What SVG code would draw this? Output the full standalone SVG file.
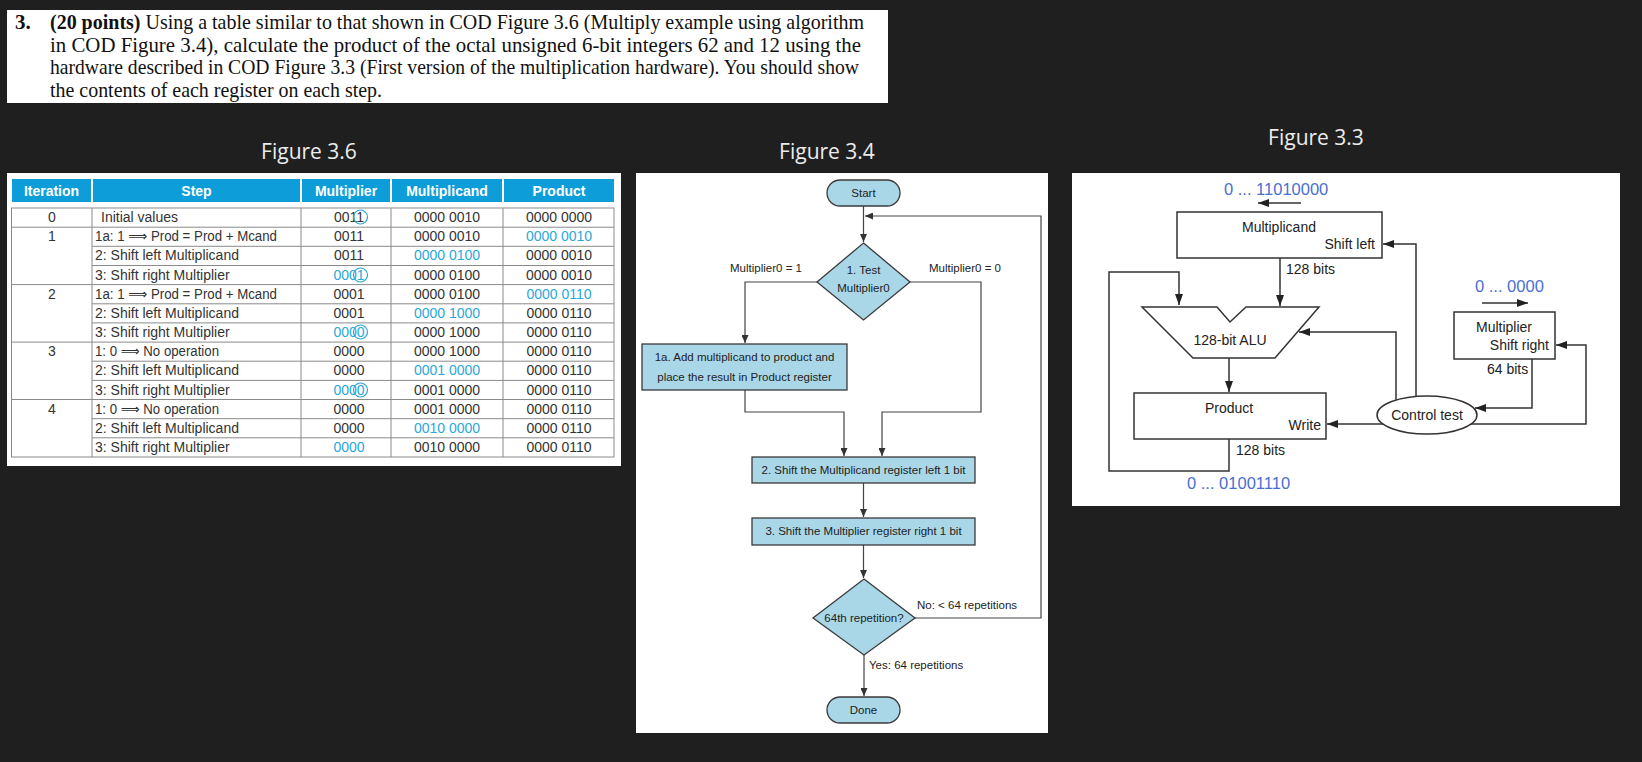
<svg xmlns="http://www.w3.org/2000/svg" width="1642" height="762" viewBox="0 0 1642 762">
<defs>
<style>
.q{font-family:"Liberation Serif","Times New Roman",serif;font-size:21px;fill:#111}
.ttl{font-family:"Open Sans","Noto Sans",sans-serif;font-size:21px;fill:#ececec;text-anchor:middle}
.th{font-family:"Liberation Sans",Arial,sans-serif;font-size:14px;font-weight:bold;fill:#fff;text-anchor:middle}
.td{font-family:"Liberation Sans","DejaVu Sans",Arial,sans-serif;font-size:14px;fill:#333}
.c{text-anchor:middle}
.bl{fill:#2aa7dc}
.hd{fill:#0d9ed9}
.grid{stroke:#8a8a8a;stroke-width:1;fill:none}
.ft{font-family:"Liberation Sans",Arial,sans-serif;font-size:11.5px;fill:#222}
.fb{fill:#a9d7e8;stroke:#3a3a3a;stroke-width:1.3}
.fc{fill:none;stroke:#444;stroke-width:1.2}
.ht{font-family:"Liberation Sans",Arial,sans-serif;font-size:14px;fill:#222}
.hn{font-family:"Liberation Sans",Arial,sans-serif;font-size:16.5px;fill:#4a6fd0}
.hb{fill:#fff;stroke:#333;stroke-width:1.5}
.hc{fill:none;stroke:#333;stroke-width:1.5}
.circ{fill:none;stroke:#2aa7dc;stroke-width:1.2}
</style>
<marker id="a4" markerUnits="userSpaceOnUse" markerWidth="8" markerHeight="7" refX="8" refY="3.5" orient="auto"><path d="M0,0 L8,3.5 L0,7 z" fill="#333"/></marker>
<marker id="a3" markerUnits="userSpaceOnUse" markerWidth="11" markerHeight="8" refX="11" refY="4" orient="auto"><path d="M0,0 L11,4 L0,8 z" fill="#222"/></marker>
</defs>
<rect width="1642" height="762" fill="#1f1f1f"/>

<g id="question">
<rect x="7" y="10" width="881" height="93" fill="#fff"/>
<text class="q" x="15" y="29" font-weight="bold">3.</text>
<text class="q" x="50" y="29" textLength="814" lengthAdjust="spacingAndGlyphs"><tspan font-weight="bold">(20 points)</tspan> Using a table similar to that shown in COD Figure 3.6 (Multiply example using algorithm</text>
<text class="q" x="50" y="51.5" textLength="811" lengthAdjust="spacingAndGlyphs">in COD Figure 3.4), calculate the product of the octal unsigned 6-bit integers 62 and 12 using the</text>
<text class="q" x="50" y="74" textLength="809" lengthAdjust="spacingAndGlyphs">hardware described in COD Figure 3.3 (First version of the multiplication hardware). You should show</text>
<text class="q" x="50" y="96.5" textLength="332" lengthAdjust="spacingAndGlyphs">the contents of each register on each step.</text>
</g>

<text class="ttl" x="309" y="159">Figure 3.6</text>
<text class="ttl" x="827" y="159">Figure 3.4</text>
<text class="ttl" x="1316" y="145">Figure 3.3</text>

<g id="table36">
<rect x="7" y="173" width="614" height="293" fill="#fff"/>
<rect class="hd" x="12" y="179" width="79" height="23"/>
<rect class="hd" x="93" y="179" width="207" height="23"/>
<rect class="hd" x="302" y="179" width="88" height="23"/>
<rect class="hd" x="392" y="179" width="110" height="23"/>
<rect class="hd" x="504" y="179" width="110" height="23"/>
<text class="th" x="51.5" y="196">Iteration</text>
<text class="th" x="196.5" y="196">Step</text>
<text class="th" x="346" y="196">Multiplier</text>
<text class="th" x="447" y="196">Multiplicand</text>
<text class="th" x="559" y="196">Product</text>
<rect class="grid" x="11.5" y="208" width="602.5" height="249"/>
<path class="grid" d="M92,208V457M301,208V457M391,208V457M503,208V457
M92,227.2H614M11.5,227.2H92
M92,246.3H614M92,265.5H614
M11.5,284.6H614
M92,303.8H614M92,322.9H614
M11.5,342.1H614
M92,361.2H614M92,380.4H614
M11.5,399.5H614
M92,418.7H614M92,437.8H614"/>
<g class="td">
<text class="c" x="52" y="222">0</text>
<text class="c" x="52" y="241">1</text>
<text class="c" x="52" y="299">2</text>
<text class="c" x="52" y="356">3</text>
<text class="c" x="52" y="414">4</text>
<text x="101" y="222">Initial values</text>
<text x="95" y="241" textLength="182" lengthAdjust="spacingAndGlyphs">1a: 1 ⟹ Prod = Prod + Mcand</text>
<text x="95" y="260">2: Shift left Multiplicand</text>
<text x="95" y="280">3: Shift right Multiplier</text>
<text x="95" y="299" textLength="182" lengthAdjust="spacingAndGlyphs">1a: 1 ⟹ Prod = Prod + Mcand</text>
<text x="95" y="318">2: Shift left Multiplicand</text>
<text x="95" y="337">3: Shift right Multiplier</text>
<text x="95" y="356" textLength="124" lengthAdjust="spacingAndGlyphs">1: 0 ⟹ No operation</text>
<text x="95" y="375">2: Shift left Multiplicand</text>
<text x="95" y="395">3: Shift right Multiplier</text>
<text x="95" y="414" textLength="124" lengthAdjust="spacingAndGlyphs">1: 0 ⟹ No operation</text>
<text x="95" y="433">2: Shift left Multiplicand</text>
<text x="95" y="452">3: Shift right Multiplier</text>
<text class="c" x="349" y="222">0011</text>
<text class="c" x="349" y="241">0011</text>
<text class="c" x="349" y="260">0011</text>
<text class="c bl" x="349" y="280">0001</text>
<text class="c" x="349" y="299">0001</text>
<text class="c" x="349" y="318">0001</text>
<text class="c bl" x="349" y="337">0000</text>
<text class="c" x="349" y="356">0000</text>
<text class="c" x="349" y="375">0000</text>
<text class="c bl" x="349" y="395">0000</text>
<text class="c" x="349" y="414">0000</text>
<text class="c" x="349" y="433">0000</text>
<text class="c bl" x="349" y="452">0000</text>
<text class="c" x="447" y="222">0000 0010</text>
<text class="c" x="447" y="241">0000 0010</text>
<text class="c bl" x="447" y="260">0000 0100</text>
<text class="c" x="447" y="280">0000 0100</text>
<text class="c" x="447" y="299">0000 0100</text>
<text class="c bl" x="447" y="318">0000 1000</text>
<text class="c" x="447" y="337">0000 1000</text>
<text class="c" x="447" y="356">0000 1000</text>
<text class="c bl" x="447" y="375">0001 0000</text>
<text class="c" x="447" y="395">0001 0000</text>
<text class="c" x="447" y="414">0001 0000</text>
<text class="c bl" x="447" y="433">0010 0000</text>
<text class="c" x="447" y="452">0010 0000</text>
<text class="c" x="559" y="222">0000 0000</text>
<text class="c bl" x="559" y="241">0000 0010</text>
<text class="c" x="559" y="260">0000 0010</text>
<text class="c" x="559" y="280">0000 0010</text>
<text class="c bl" x="559" y="299">0000 0110</text>
<text class="c" x="559" y="318">0000 0110</text>
<text class="c" x="559" y="337">0000 0110</text>
<text class="c" x="559" y="356">0000 0110</text>
<text class="c" x="559" y="375">0000 0110</text>
<text class="c" x="559" y="395">0000 0110</text>
<text class="c" x="559" y="414">0000 0110</text>
<text class="c" x="559" y="433">0000 0110</text>
<text class="c" x="559" y="452">0000 0110</text>
</g>
<circle class="circ" cx="360.5" cy="217" r="7"/>
<circle class="circ" cx="360.5" cy="275" r="7"/>
<circle class="circ" cx="360.5" cy="332" r="7"/>
<circle class="circ" cx="360.5" cy="390" r="7"/>
</g>

<g id="fig34">
<rect x="636" y="173" width="412" height="560" fill="#fff"/>
<g id="connectors34">
<path class="fc" d="M863.5,206V242" marker-end="url(#a4)"/>
<path class="fc" d="M915,618H1041V216H865" marker-end="url(#a4)"/>
<path class="fc" d="M817,282H745V343" marker-end="url(#a4)"/>
<path class="fc" d="M910,282H981V412H882V456" marker-end="url(#a4)"/>
<path class="fc" d="M745,390V412H844V456" marker-end="url(#a4)"/>
<path class="fc" d="M863.5,483V517" marker-end="url(#a4)"/>
<path class="fc" d="M863.5,545V578" marker-end="url(#a4)"/>
<path class="fc" d="M864,655V696" marker-end="url(#a4)"/>
</g>
<g id="start"><rect class="fb" x="827" y="180" width="73" height="26" rx="13"/><text class="ft c" x="863.5" y="197">Start</text></g>
<g id="test1"><polygon class="fb" points="863.5,243 910,282 863.5,320 817,282"/><text class="ft c" x="863.5" y="274">1. Test</text><text class="ft c" x="863.5" y="292">Multiplier0</text></g>
<text class="ft c" x="766" y="272">Multiplier0 = 1</text>
<text class="ft c" x="965" y="272">Multiplier0 = 0</text>
<g id="step1a"><rect class="fb" x="642" y="344" width="205" height="46"/><text class="ft c" x="744.5" y="361">1a.  Add multiplicand to product and</text><text class="ft c" x="744.5" y="381">place the result in Product register</text></g>
<g id="step2"><rect class="fb" x="752" y="457" width="223" height="26"/><text class="ft c" x="863.5" y="474">2.  Shift the Multiplicand register left 1 bit</text></g>
<g id="step3"><rect class="fb" x="752" y="518" width="223" height="27"/><text class="ft c" x="863.5" y="535">3.  Shift the Multiplier register right 1 bit</text></g>
<g id="rep"><polygon class="fb" points="864,579 915,618 864,655 813,618"/><text class="ft c" x="864" y="622" font-size="12">64th repetition?</text></g>
<text class="ft" x="917" y="609">No: &lt; 64 repetitions</text>
<text class="ft" x="869" y="669">Yes: 64 repetitions</text>
<g id="done"><rect class="fb" x="827" y="697" width="73" height="26" rx="13"/><text class="ft c" x="863.5" y="714">Done</text></g>
</g>

<g id="fig33">
<rect x="1072" y="173" width="548" height="333" fill="#fff"/>
<g id="connectors33">
<path class="hc" d="M1301,203H1258" marker-end="url(#a3)"/>
<path class="hc" d="M1416,396V244H1383" marker-end="url(#a3)"/>
<path class="hc" d="M1280,258V306" marker-end="url(#a3)"/>
<path class="hc" d="M1229,439V471H1109V272H1179V305" marker-end="url(#a3)"/>
<path class="hc" d="M1229,358V392" marker-end="url(#a3)"/>
<path class="hc" d="M1396,400V332H1299" marker-end="url(#a3)"/>
<path class="hc" d="M1383,424H1327" marker-end="url(#a3)"/>
<path class="hc" d="M1482,303H1528" marker-end="url(#a3)"/>
<path class="hc" d="M1471,424H1586V345H1556" marker-end="url(#a3)"/>
<path class="hc" d="M1532,359V408H1475" marker-end="url(#a3)"/>
</g>
<text class="hn" x="1224" y="195">0 ... 11010000</text>
<g id="multiplicand"><rect class="hb" x="1177" y="212" width="205" height="46"/><text class="ht c" x="1279" y="232">Multiplicand</text><text class="ht" x="1375" y="249" text-anchor="end">Shift left</text></g>
<text class="ht" x="1286" y="274">128 bits</text>
<g id="alu"><polygon class="hb" points="1142,307 1217,307 1230,322 1246,307 1319,307 1275,358 1193,358"/><text class="ht c" x="1230" y="345">128-bit ALU</text></g>
<g id="product"><rect class="hb" x="1134" y="393" width="192" height="46"/><text class="ht c" x="1229" y="413">Product</text><text class="ht" x="1321" y="430" text-anchor="end">Write</text></g>
<text class="ht" x="1236" y="455">128 bits</text>
<text class="hn" x="1187" y="489">0 ... 01001110</text>
<g id="control"><ellipse class="hb" cx="1427" cy="415" rx="50" ry="19"/><text class="ht c" x="1427" y="420">Control test</text></g>
<text class="hn" x="1475" y="292">0 ... 0000</text>
<g id="multiplier"><rect class="hb" x="1454" y="312" width="101" height="47"/><text class="ht c" x="1504" y="332">Multiplier</text><text class="ht" x="1549" y="350" text-anchor="end">Shift right</text></g>
<text class="ht" x="1487" y="374">64 bits</text>
</g>
</svg>
